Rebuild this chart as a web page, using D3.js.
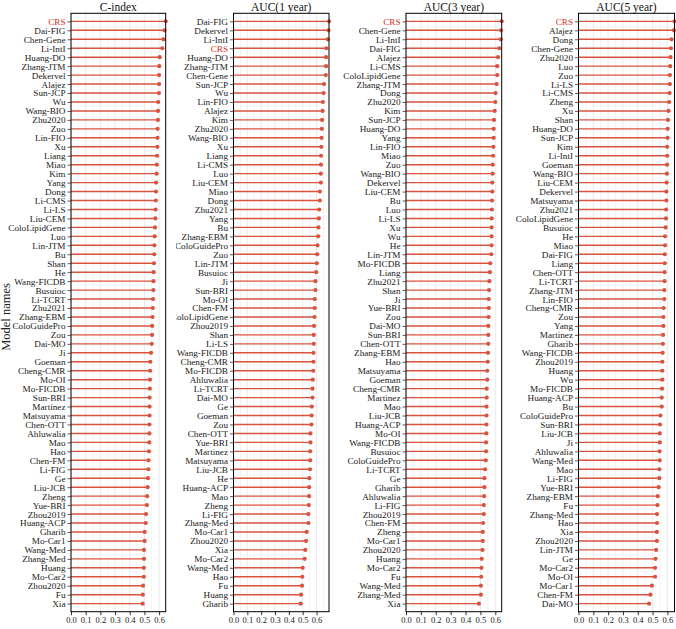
<!DOCTYPE html>
<meta charset="utf-8">
<style>
body { margin: 0; background: #fff; }
svg text { font-family: "Liberation Serif", "Times New Roman", serif; }
</style>
<body>
<script src="https://cdn.jsdelivr.net/npm/d3@7"></script>
<script>

//// data ////
const cindexNames = ["CRS","Dai-FIG","Chen-Gene","Li-IntI","Huang-DO","Zhang-JTM","Dekervel","Alajez","Sun-JCP","Wu","Wang-BIO","Zhu2020","Zuo","Lin-FIO","Xu","Liang","Miao","Kim","Yang","Dong","Li-CMS","Li-LS","Liu-CEM","ColoLipidGene","Luo","Lin-JTM","Bu","Shan","He","Wang-FICDB","Busuioc","Li-TCRT","Zhu2021","Zhang-EBM","ColoGuidePro","Zou","Dai-MO","Ji","Goeman","Cheng-CMR","Mo-OI","Mo-FICDB","Sun-BRI","Martinez","Matsuyama","Chen-OTT","Ahluwalia","Mao","Hao","Chen-FM","Li-FIG","Ge","Liu-JCB","Zheng","Yue-BRI","Zhou2019","Huang-ACP","Gharib","Mo-Car1","Wang-Med","Zhang-Med","Huang","Mo-Car2","Zhou2020","Fu","Xia"];
const cindexValues = [0.645,0.637,0.630,0.622,0.604,0.601,0.600,0.600,0.599,0.594,0.593,0.592,0.590,0.589,0.588,0.586,0.585,0.583,0.580,0.579,0.578,0.576,0.575,0.572,0.570,0.568,0.567,0.565,0.563,0.562,0.561,0.559,0.557,0.555,0.553,0.552,0.550,0.545,0.540,0.539,0.538,0.537,0.535,0.535,0.535,0.534,0.534,0.533,0.531,0.528,0.527,0.524,0.522,0.519,0.517,0.511,0.509,0.502,0.501,0.497,0.497,0.496,0.496,0.491,0.489,0.488];

const auc1Names = ["Dai-FIG","Dekervel","Li-IntI","CRS","Huang-DO","Zhang-JTM","Chen-Gene","Sun-JCP","Wu","Lin-FIO","Alajez","Kim","Zhu2020","Wang-BIO","Xu","Liang","Li-CMS","Luo","Liu-CEM","Miao","Dong","Zhu2021","Yang","Bu","Zhang-EBM","ColoGuidePro","Zuo","Lin-JTM","Busuioc","Ji","Sun-BRI","Mo-OI","Chen-FM","ColoLipidGene","Zhou2019","Shan","Li-LS","Wang-FICDB","Cheng-CMR","Mo-FICDB","Ahluwalia","Li-TCRT","Dai-MO","Ge","Goeman","Zou","Chen-OTT","Yue-BRI","Martinez","Matsuyama","Liu-JCB","He","Huang-ACP","Mao","Zheng","Li-FIG","Zhang-Med","Mo-Car1","Zhou2020","Xia","Mo-Car2","Wang-Med","Hao","Fu","Huang","Gharib"];
const auc1Values = [0.690,0.686,0.681,0.671,0.669,0.669,0.667,0.654,0.651,0.646,0.644,0.640,0.638,0.636,0.634,0.632,0.632,0.631,0.631,0.624,0.624,0.619,0.617,0.614,0.612,0.607,0.605,0.602,0.597,0.592,0.592,0.587,0.587,0.585,0.582,0.580,0.580,0.578,0.578,0.576,0.573,0.571,0.571,0.566,0.565,0.563,0.556,0.556,0.554,0.554,0.553,0.548,0.546,0.546,0.544,0.541,0.541,0.529,0.524,0.519,0.514,0.500,0.497,0.495,0.488,0.485];

const auc3Names = ["CRS","Chen-Gene","Li-IntI","Dai-FIG","Alajez","Li-CMS","ColoLipidGene","Zhang-JTM","Dong","Zhu2020","Kim","Sun-JCP","Huang-DO","Yang","Lin-FIO","Miao","Zuo","Wang-BIO","Dekervel","Liu-CEM","Bu","Luo","Li-LS","Xu","Wu","He","Lin-JTM","Mo-FICDB","Liang","Zhu2021","Shan","Ji","Yue-BRI","Zou","Dai-MO","Sun-BRI","Chen-OTT","Zhang-EBM","Hao","Matsuyama","Goeman","Cheng-CMR","Martinez","Mao","Liu-JCB","Huang-ACP","Mo-OI","Wang-FICDB","Busuioc","ColoGuidePro","Li-TCRT","Ge","Gharib","Ahluwalia","Li-FIG","Zhou2019","Chen-FM","Zheng","Mo-Car1","Zhou2020","Huang","Mo-Car2","Fu","Wang-Med","Zhang-Med","Xia"];
const auc3Values = [0.643,0.638,0.636,0.627,0.618,0.613,0.613,0.609,0.602,0.600,0.596,0.591,0.589,0.589,0.587,0.585,0.583,0.582,0.580,0.580,0.578,0.577,0.576,0.575,0.575,0.575,0.573,0.566,0.564,0.560,0.558,0.556,0.556,0.555,0.553,0.553,0.553,0.551,0.549,0.546,0.546,0.542,0.542,0.541,0.541,0.540,0.540,0.538,0.538,0.536,0.531,0.527,0.527,0.525,0.523,0.523,0.518,0.516,0.516,0.514,0.509,0.507,0.505,0.503,0.503,0.490];

const auc5Names = ["CRS","Alajez","Dong","Chen-Gene","Zhu2020","Luo","Zuo","Li-LS","Li-CMS","Zheng","Xu","Shan","Huang-DO","Sun-JCP","Kim","Li-IntI","Goeman","Wang-BIO","Liu-CEM","Dekervel","Matsuyama","Zhu2021","ColoLipidGene","Busuioc","He","Miao","Dai-FIG","Liang","Chen-OTT","Li-TCRT","Zhang-JTM","Lin-FIO","Cheng-CMR","Zou","Yang","Martinez","Gharib","Wang-FICDB","Zhou2019","Huang","Wu","Mo-FICDB","Huang-ACP","Bu","ColoGuidePro","Sun-BRI","Liu-JCB","Ji","Ahluwalia","Wang-Med","Mao","Li-FIG","Yue-BRI","Zhang-EBM","Fu","Zhang-Med","Hao","Xia","Zhou2020","Lin-JTM","Ge","Mo-Car2","Mo-OI","Mo-Car1","Chen-FM","Dai-MO"];
const auc5Values = [0.648,0.644,0.628,0.624,0.621,0.619,0.617,0.617,0.615,0.612,0.608,0.604,0.602,0.602,0.599,0.599,0.598,0.597,0.595,0.593,0.593,0.591,0.590,0.588,0.584,0.584,0.582,0.582,0.581,0.581,0.579,0.579,0.575,0.573,0.573,0.571,0.570,0.568,0.566,0.566,0.566,0.564,0.562,0.562,0.553,0.550,0.549,0.549,0.547,0.548,0.546,0.546,0.541,0.535,0.533,0.530,0.530,0.529,0.529,0.524,0.520,0.517,0.517,0.495,0.485,0.476];

const panelTitles = ["C-index", "AUC(1 year)", "AUC(3 year)", "AUC(5 year)"];
const xTicks = [0, 0.1, 0.2, 0.3, 0.4, 0.5, 0.6];
const gridTicks = d3.range(0, 0.70001, 0.05);
const highlight = "CRS";

//// layout ////
const width = 676, height = 629;
const plotTop = 13.3, plotBottom = 611.7;
const lollipopColor = "#d9533f";

// left/right edge of each plot frame, plus where the panel is clipped on the left
const panelBoxes = [
   { x0: 71,    x1: 165.7, clipLeft: 0 },
   { x0: 233.5, x1: 329,   clipLeft: 176 },
   { x0: 406,   x1: 501.7, clipLeft: 336 },
   { x0: 578.5, x1: 674.5, clipLeft: 506 }
];

const panelData = [
   { names: cindexNames, values: cindexValues },
   { names: auc1Names, values: auc1Values },
   { names: auc3Names, values: auc3Values },
   { names: auc5Names, values: auc5Values }
];

const svg = d3.select("body").append("svg")
   .attr("width", width)
   .attr("height", height);

svg.append("text")
   .attr("transform", `translate(9.5, 317) rotate(-90)`)
   .attr("text-anchor", "middle")
   .style("font-size", "12.5px")
   .style("fill", "#222")
   .text("Model names");

panelData.forEach(function(pd, i) {
   const box = panelBoxes[i];
   const rows = pd.names.map((n, k) => ({ name: n, value: pd.values[k] }));

   const xScale = d3.scaleLinear()
      .domain([0, d3.max(pd.values)])
      .range([box.x0, box.x1]);

   const yScale = d3.scalePoint()
      .domain(pd.names)
      .range([plotTop, plotBottom])
      .padding(0.9);

   svg.append("clipPath")
      .attr("id", `panel-clip-${i}`)
      .append("rect")
      .attr("x", box.clipLeft)
      .attr("y", 0)
      .attr("width", box.x1 + 4 - box.clipLeft)
      .attr("height", height);

   const g = svg.append("g")
      .attr("class", `panel-${i}`)
      .attr("clip-path", `url(#panel-clip-${i})`);

   // faint vertical grid
   g.append("g")
      .selectAll("line")
      .data(gridTicks.filter(t => xScale(t) < box.x1 - 0.5))
      .join("line")
      .attr("x1", d => xScale(d))
      .attr("x2", d => xScale(d))
      .attr("y1", plotTop)
      .attr("y2", plotBottom)
      .attr("stroke", (d, k) => k % 2 === 0 ? "#e2e2e2" : "#eeeeee")
      .attr("stroke-width", 0.7);

   // stems
   g.append("g")
      .selectAll("line")
      .data(rows)
      .join("line")
      .attr("x1", xScale(0))
      .attr("x2", d => xScale(d.value))
      .attr("y1", d => yScale(d.name))
      .attr("y2", d => yScale(d.name))
      .attr("stroke", lollipopColor)
      .attr("stroke-width", 1.4);

   // heads
   g.append("g")
      .selectAll("circle")
      .data(rows)
      .join("circle")
      .attr("cx", d => xScale(d.value))
      .attr("cy", d => yScale(d.name))
      .attr("r", 2.1)
      .attr("fill", lollipopColor);

   // frame
   g.append("rect")
      .attr("x", box.x0)
      .attr("y", plotTop)
      .attr("width", box.x1 - box.x0)
      .attr("height", plotBottom - plotTop)
      .attr("fill", "none")
      .attr("stroke", "#000")
      .attr("stroke-width", 1);

   // y axis
   const yAxis = g.append("g")
      .attr("transform", `translate(${box.x0},0)`)
      .call(d3.axisLeft(yScale).tickSize(3.5).tickPadding(2));
   yAxis.select(".domain").remove();
   yAxis.selectAll(".tick line").attr("stroke", "#333").attr("stroke-width", 0.8);
   yAxis.selectAll(".tick text")
      .style("font-size", "9.2px")
      .style("font-family", "Liberation Serif")
      .style("fill", d => d === highlight ? "#d7301f" : "#1a1a1a");

   // x axis
   const xAxis = g.append("g")
      .attr("transform", `translate(0,${plotBottom})`)
      .call(d3.axisBottom(xScale).tickValues(xTicks).tickFormat(d3.format(".1f")).tickSize(3.5).tickPadding(2));
   xAxis.select(".domain").remove();
   xAxis.selectAll(".tick line").attr("stroke", "#000").attr("stroke-width", 0.8);
   xAxis.selectAll(".tick text")
      .style("font-size", "8.5px")
      .style("font-family", "Liberation Serif")
      .style("fill", "#1a1a1a");

   g.append("text")
      .attr("x", (box.x0 + box.x1) / 2)
      .attr("y", 10.5)
      .attr("text-anchor", "middle")
      .style("font-size", "11.5px")
      .style("fill", "#111")
      .text(panelTitles[i]);
});

</script>
</body>
</html>
